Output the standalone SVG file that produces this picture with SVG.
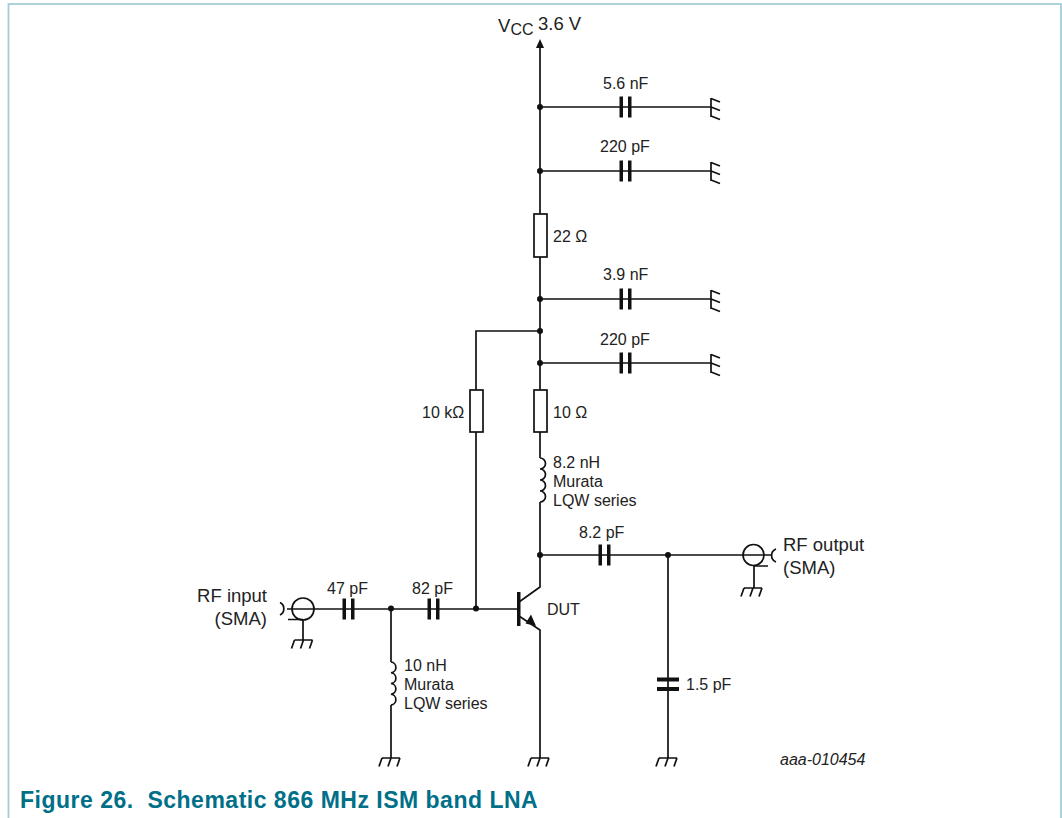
<svg xmlns="http://www.w3.org/2000/svg" width="1062" height="818" viewBox="0 0 1062 818">
<style>
text{font-family:"Liberation Sans",Arial,sans-serif;font-size:16px;fill:#222}
.l{font-size:18.500px}
.w{fill:none;stroke:#111;stroke-width:1.700}
.p{fill:#111}
.f{fill:#fff;stroke:#111;stroke-width:1.700}
</style>
<defs>
<g id="capH"><path class="p" d="M-5.500-10.500h3.500v21h-3.500zM3-10.500h3.500v21h-3.500z"/></g>
<g id="gndR"><path class="w" d="M0-9V10M0-8.500L9-5M0 0L9 3.500M0 9L9 12.500"/></g>
<g id="gndD"><path class="w" d="M-9 0H9M-9 0L-12 8.500M0 0L-3 8.500M9 0L6 8.500"/></g>
<circle id="dot" r="3" class="p"/>
</defs>
<rect id="frame" x="8.500" y="4" width="1052.500" height="830" fill="#fff" stroke="#a3cdd8" stroke-width="1.800"/>
<g id="connectors">
<path class="w" d="M540 45V214M540 257V390M540 432V458M540 502V587L519 602M519 616L540 630V758"/>
<path class="w" d="M540 458a5.500 5.500 0 0 1 0 11a5.500 5.500 0 0 1 0 11a5.500 5.500 0 0 1 0 11a5.500 5.500 0 0 1 0 11"/>
<path class="w" d="M540 107H711M540 171H711M540 299H711M540 363H711"/>
<path class="w" d="M540 331H476V390M476 432V609"/>
<path class="w" d="M292 609H518"/>
<path class="w" d="M391 609V662M391 705V758"/>
<path class="w" d="M391 662a5.400 5.400 0 0 1 0 10.750a5.400 5.400 0 0 1 0 10.750a5.400 5.400 0 0 1 0 10.750a5.400 5.400 0 0 1 0 10.750"/>
<path class="w" d="M540 555H764M668 555V758"/>
<path class="p" d="M540 39L544 48H536Z"/>
<path class="p" d="M536 626L525.500 623.500L531 614.500Z"/>
<path class="p" d="M517 592h3.500v34h-3.500z"/>
</g>
<g id="vcc"><text class="l" x="498" y="32">V</text><text x="510.500" y="35">CC</text><text class="l" x="538" y="30">3.6 V</text></g>
<g id="c1"><use href="#capH" x="625" y="107"/><use href="#gndR" x="711" y="107"/><use href="#dot" x="540" y="107"/><text x="603" y="89">5.6 nF</text></g>
<g id="c2"><use href="#capH" x="625" y="171"/><use href="#gndR" x="711" y="171"/><use href="#dot" x="540" y="171"/><text x="600" y="152">220 pF</text></g>
<g id="r1"><rect class="f" x="534" y="214" width="13" height="43"/><text x="553" y="242">22 Ω</text></g>
<g id="c3"><use href="#capH" x="625" y="299"/><use href="#gndR" x="711" y="299"/><use href="#dot" x="540" y="299"/><text x="603" y="280">3.9 nF</text></g>
<g id="j1"><use href="#dot" x="540" y="331"/></g>
<g id="c4"><use href="#capH" x="625" y="363"/><use href="#gndR" x="711" y="363"/><use href="#dot" x="540" y="363"/><text x="600" y="345">220 pF</text></g>
<g id="r2"><rect class="f" x="534" y="390" width="13" height="42"/><text x="553" y="418">10 Ω</text></g>
<g id="r3"><rect class="f" x="470" y="390" width="13" height="42"/><text x="422" y="418">10 kΩ</text></g>
<g id="l1"><text x="553" y="468">8.2 nH</text><text x="553" y="487">Murata</text><text x="553" y="506">LQW series</text></g>
<g id="c5"><use href="#capH" x="604" y="555"/><use href="#dot" x="540" y="555"/><use href="#dot" x="668" y="555"/><text x="579" y="538">8.2 pF</text></g>
<g id="output"><circle cx="753.500" cy="555" r="10.500" fill="none" stroke="#111" stroke-width="1.700"/><path class="w" d="M764 555H772M776 549A7 7 0 0 0 776 562M753.500 566H768M754 566V588"/><use href="#gndD" x="753" y="588"/><text class="l" x="783" y="551">RF output</text><text class="l" x="783" y="574">(SMA)</text></g>
<g id="input"><circle cx="303" cy="609" r="11" fill="none" stroke="#111" stroke-width="1.700"/><path class="w" d="M287 609H292M280 602.500A7 7 0 0 1 280 615M288 619.500H303M303 619.500V640"/><use href="#gndD" x="303.500" y="640"/><text class="l" x="267" y="602" text-anchor="end">RF input</text><text class="l" x="267" y="625" text-anchor="end">(SMA)</text></g>
<g id="c6"><use href="#capH" x="348" y="609"/><text x="327" y="594">47 pF</text></g>
<g id="c7"><use href="#capH" x="433" y="609"/><use href="#dot" x="391" y="608.500"/><use href="#dot" x="476" y="608.500"/><text x="412" y="594">82 pF</text></g>
<g id="dut"><text x="547" y="615">DUT</text><use href="#gndD" x="540" y="758"/></g>
<g id="l2"><text x="404" y="671">10 nH</text><text x="404" y="690">Murata</text><text x="404" y="709">LQW series</text><use href="#gndD" x="391" y="758"/></g>
<g id="c8"><path class="p" d="M657 677.500h22v4h-22zM657 687h22v4h-22z"/><use href="#gndD" x="668" y="758"/><text x="686" y="690">1.5 pF</text></g>
<text x="780" y="765" font-style="italic">aaa-010454</text>
<text x="20" y="808" style="font-size:23px;letter-spacing:.5px;font-weight:bold;fill:#006f88;white-space:pre">Figure 26.  Schematic 866 MHz ISM band LNA</text>
</svg>
